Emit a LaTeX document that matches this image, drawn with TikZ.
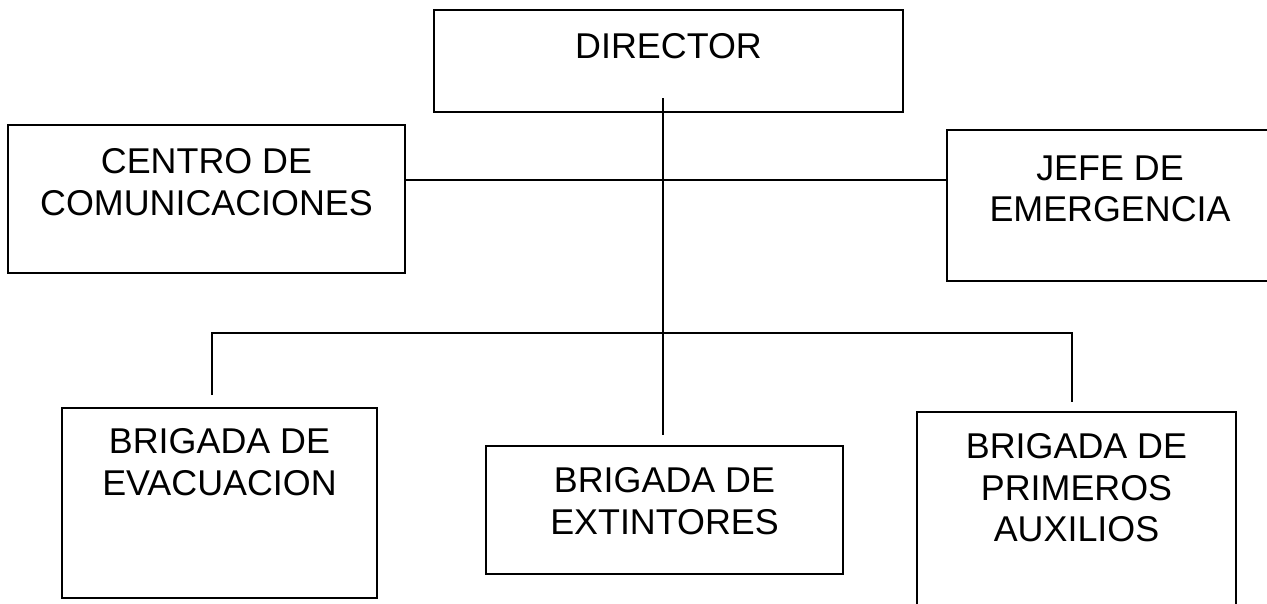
\documentclass[tikz,border=0pt]{standalone}
\usepackage{fontspec}
\setmainfont{Liberation Sans}
\usepackage{tikz}
\usetikzlibrary{positioning}

\tikzset{
	cargo/.style={draw, line width=0.7pt, rectangle, inner sep=0pt, outer sep=0pt, anchor=north west},
	rotulo/.style={align=center, inner sep=0pt, font=\fontsize{10.2}{11.8}\selectfont},
	enlace/.style={line width=0.6pt}
}

\begin{document}
\begin{tikzpicture}
			\useasboundingbox (0,0) rectangle (12.67,-6.03);
			\node[cargo, minimum width=4.69cm, minimum height=1.02cm] (dir) at (4.34,-0.10) {};
			\node[cargo, minimum width=3.97cm, minimum height=1.48cm] (centro) at (0.08,-1.25) {};
			\node[cargo, minimum width=3.26cm, minimum height=1.51cm] (jefe) at (9.47,-1.30) {};
			\node[cargo, minimum width=3.15cm, minimum height=1.90cm] (evac) at (0.62,-4.08) {};
			\node[cargo, minimum width=3.57cm, minimum height=1.28cm] (ext) at (4.86,-4.46) {};
			\node[cargo, minimum width=3.19cm, minimum height=2.10cm] (prim) at (9.17,-4.12) {};
			\node[rotulo, below=0.23cm of dir.north] (tdir) {DIRECTOR};
			\node[rotulo, below=0.23cm of centro.north] (tcentro) {CENTRO DE\\COMUNICACIONES};
			\node[rotulo, below=0.25cm of jefe.north] (tjefe) {JEFE DE\\EMERGENCIA};
			\node[rotulo, below=0.20cm of evac.north] (tevac) {BRIGADA DE\\EVACUACION};
			\node[rotulo, below=0.21cm of ext.north] (text) {BRIGADA DE\\EXTINTORES};
			\node[rotulo, below=0.21cm of prim.north] (tprim) {BRIGADA DE\\PRIMEROS\\AUXILIOS};
			\coordinate (tronco) at (6.63,-0.98);
			\coordinate (pie) at (6.63,-4.35);
			\coordinate (medio) at (6.63,-1.80);
			\coordinate (rama) at (6.63,-3.33);
			\coordinate (izq) at (2.12,-3.33);
			\coordinate (der) at (10.72,-3.33);
			\coordinate (izqfin) at (2.12,-3.95);
			\coordinate (derfin) at (10.72,-4.02);
			\draw[enlace] (tronco) -- (pie);
			\draw[enlace] (centro.east |- medio) -- (jefe.west |- medio);
			\draw[enlace] (izqfin) -- (izq) -- (der) -- (derfin);
		\end{tikzpicture}
\end{document}
